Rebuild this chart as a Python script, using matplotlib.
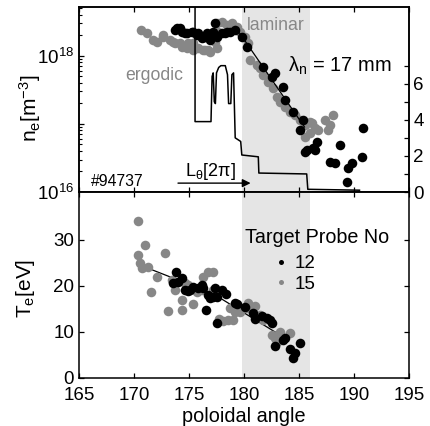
import matplotlib
matplotlib.use("Agg")
import matplotlib.pyplot as plt
from matplotlib.ticker import FixedLocator, FixedFormatter
import numpy as np

plt.rcParams['font.family'] = ['Liberation Sans', 'DejaVu Sans']
plt.rcParams['mathtext.fontset'] = 'custom'
plt.rcParams['mathtext.rm'] = 'Liberation Sans'
plt.rcParams['mathtext.it'] = 'Liberation Sans:italic'
plt.rcParams['mathtext.bf'] = 'Liberation Sans:bold'

# ---------------- data ----------------
# density, probe 12 (black), units of 1e18 m^-3
theta_ne12 = [173.7, 173.9, 174.2, 174.4, 174.6, 174.8, 175.3, 175.4, 175.7, 175.8,
              176.2, 176.3, 176.45, 176.6, 176.9, 176.9, 177.2, 177.4, 177.55, 178.0,
              178.3, 178.45, 178.7, 179.2, 179.8, 180.3, 181.7, 182.8, 182.5, 183.55,
              183.7, 184.45, 185.1, 185.4, 185.7, 185.5, 186.45, 186.6, 186.3, 188.7,
              187.8, 188.3, 189.45, 189.8, 189.4, 190.7, 190.8]
ne12 = [2.41, 2.58, 2.58, 2.25, 2.18, 2.18, 2.25, 2.25, 2.04, 2.18,
        1.84, 1.9, 1.9, 2.18, 2.04, 1.72, 2.25, 3.06, 1.9, 2.18,
        2.18, 2.25, 2.25, 2.41, 1.9, 1.36, 0.69, 0.56, 0.49, 0.35,
        0.225, 0.15, 0.082, 0.115, 0.041, 0.039, 0.041, 0.054, 0.044, 0.049,
        0.028, 0.027, 0.0225, 0.027, 0.014, 0.033, 0.087]

# density, probe 15 (gray)
theta_ne15 = [170.6, 171.2, 171.7, 172.1, 172.6, 172.6, 173.3, 173.5, 173.7, 174.2,
              174.4, 174.8, 174.9, 175.4, 175.4, 175.8, 176.3, 176.45, 176.7, 176.9,
              177.4, 177.55, 177.6, 177.55, 178.0, 178.45, 178.9, 179.4, 179.6, 180.1,
              180.4, 180.5, 181.2, 181.45, 181.7, 182.2, 182.6, 183.0, 183.3, 183.7,
              184.2, 184.6, 185.1, 185.5, 186.0, 186.45, 186.0, 185.5, 186.7, 187.4,
              187.8, 188.1, 187.6, 186.2]
ne15 = [2.35, 2.18, 1.72, 1.61, 1.9, 2.04, 1.72, 1.61, 1.55, 1.55,
        1.36, 1.31, 1.55, 1.23, 1.55, 1.31, 1.23, 1.23, 1.23, 1.15,
        1.61, 1.31, 2.25, 3.06, 3.16, 2.86, 3.06, 2.67, 2.25, 1.9,
        1.55, 0.87, 0.74, 0.67, 0.53, 0.41, 0.34, 0.25, 0.21, 0.178,
        0.15, 0.136, 0.115, 0.097, 0.107, 0.087, 0.074, 0.064, 0.082, 0.115,
        0.097, 0.136, 0.082, 0.103]

# exponential fit for density (lambda_n = 17 mm)
theta_nfit = [179.2, 185.5]
ne_fit = [2.67, 0.090]

# connection length L_theta [2pi]
theta_L = [175.55, 175.55, 177.0, 177.1, 177.2, 177.3, 177.4, 177.5, 177.7, 177.9,
           178.3, 178.5, 178.6, 178.8, 178.9, 179.05, 179.2, 179.7, 179.8, 181.3,
           181.35, 185.7, 185.8, 190.5]
L_theta = [12.0, 3.9, 3.9, 6.4, 6.6, 5.0, 4.9, 6.6, 6.9, 7.0,
           7.0, 6.5, 4.9, 4.9, 6.5, 6.6, 3.0, 2.8, 2.05, 1.95,
           1.05, 1.0, 0.15, 0.1]

# temperature, probe 12 (black)
theta_T12 = [173.8, 173.5, 174.0, 174.4, 174.6, 174.9, 175.1, 175.4, 175.8, 176.2,
             176.25, 176.5, 176.7, 176.9, 177.2, 177.55, 177.5, 177.4, 178.0, 178.4,
             179.2, 179.4, 180.1, 180.8, 181.0, 181.6, 182.1, 182.4, 182.5, 183.55,
             183.7, 182.8, 184.2, 184.6, 184.45, 185.1]
T12 = [23.1, 20.7, 20.8, 21.7, 19.1, 18.9, 19.1, 19.8, 19.6, 20.2,
       19.6, 14.8, 18.0, 17.4, 17.6, 17.6, 12.0, 19.6, 19.1, 18.3,
       16.3, 16.1, 15.4, 14.1, 12.8, 13.5, 13.0, 12.6, 12.0, 8.3,
       8.7, 7.0, 6.3, 5.4, 4.3, 7.6]

# temperature, probe 15 (gray)
theta_T15 = [170.4, 170.4, 170.5, 170.7, 171.0, 171.3, 171.5, 172.1, 172.8, 173.1,
             173.45, 173.7, 174.4, 174.35, 174.6, 174.9, 175.4, 175.7, 176.2, 176.3,
             176.7, 177.2, 177.2, 177.7, 178.1, 178.5, 178.7, 179.2, 179.0, 179.6,
             180.3, 181.0, 181.45, 181.7, 182.5, 182.8, 183.3, 183.0, 184.2, 179.4,
             180.35]
T15 = [34.0, 26.7, 25.0, 23.9, 28.9, 24.1, 18.7, 22.0, 27.2, 14.6,
       21.3, 19.1, 17.0, 14.7, 20.7, 20.2, 16.1, 18.7, 19.1, 22.0,
       23.0, 23.0, 19.1, 12.8, 12.4, 12.5, 15.2, 14.3, 12.6, 14.3,
       15.2, 15.6, 13.7, 12.6, 9.3, 8.7, 10.0, 7.8, 9.8, 15.9,
       16.3]

# temperature fit
theta_Tfit = [171.0, 175.8, 177.4, 183.7]
T_fit = [24.1, 19.6, 18.0, 8.7]

laminar_span = (179.8, 186.0)
xticks = [165, 170, 175, 180, 185, 190, 195]

GRAY = '#878787'
SHADE = '#e5e5e5'
TFS = 13.5

# ---------------- figure ----------------
fig = plt.figure(figsize=(4.31, 4.26), dpi=100)
W, H = 431, 426
left, right = 79 / W, 409 / W
ax1 = fig.add_axes([left, 1 - 192 / H, right - left, (192 - 7) / H])
ax2 = fig.add_axes([left, 1 - 378 / H, right - left, (378 - 192) / H])

for ax in (ax1, ax2):
    ax.axvspan(*laminar_span, color=SHADE, lw=0, zorder=0)
    ax.set_xlim(165, 195)
    ax.set_xticks(xticks)
    for s in ax.spines.values():
        s.set_linewidth(1.1)

# top panel
ax1.set_yscale('log')
ms = 6.9
ax1.plot(theta_ne15, np.array(ne15) * 1e18, 'o', color=GRAY, ms=ms, mec='none', zorder=3)
ax1.plot(theta_ne12, np.array(ne12) * 1e18, 'o', color='black', ms=ms, mec='none', zorder=4)
ax1.plot(theta_nfit, np.array(ne_fit) * 1e18, '-', color='black', lw=0.9, zorder=5)
ax1.set_ylim(1e16, 5.2e18)
ax1.yaxis.set_major_locator(FixedLocator([1e16, 1e17, 1e18]))
ax1.yaxis.set_major_formatter(FixedFormatter([r'$10^{16}$', '', r'$10^{18}$']))
minor = [k * 10 ** e for e in (16, 17, 18) for k in range(2, 10)]
ax1.yaxis.set_minor_locator(FixedLocator(minor))
ax1.tick_params(axis='y', which='minor', direction='in', length=2.5, width=0.8)
ax1.tick_params(axis='both', which='major', direction='in', length=3.5, width=0.9,
                labelsize=TFS, top=True, bottom=True)
ax1.tick_params(axis='x', labelbottom=False)
ax1.set_ylabel(r'n$_\mathregular{e}$[m$^\mathregular{-3}$]', fontsize=15)
ax1.yaxis.set_label_coords(-0.11, 0.454)

ax1r = ax1.twinx()
ax1r.plot(theta_L, L_theta, '-', color='black', lw=1.1, zorder=6)
ax1r.set_ylim(0, 10.25)
ax1r.set_yticks([0, 1, 2, 3, 4, 5, 6, 7])
ax1r.set_yticklabels(['0', '', '2', '', '4', '', '6', ''])
ax1r.tick_params(axis='y', direction='in', length=3.5, width=0.9, labelsize=TFS, pad=3)
for s in ax1r.spines.values():
    s.set_linewidth(1.1)

ax1.text(169.2, 0.51e18, 'ergodic', color=GRAY, fontsize=12.7, va='center', ha='left')
ax1.text(180.3, 2.75e18, 'laminar', color=GRAY, fontsize=12.7, va='center', ha='left')
ax1.text(184.0, 0.72e18, r'λ$_\mathregular{n}$ = 17 mm', color='black', fontsize=14.5,
         va='center', ha='left')
ax1.text(166.1, 1.42e16, '#94737', color='black', fontsize=11.3, va='center', ha='left')
ax1.text(174.6, 2.0e16, r'L$_\mathregular{θ}$[2π]', color='black', fontsize=13,
         va='center', ha='left')
ax1.annotate('', xy=(180.6, 1.35e16), xytext=(174.0, 1.35e16),
             arrowprops=dict(arrowstyle='-|>', color='black', lw=1.0,
                             mutation_scale=12, shrinkA=0, shrinkB=0))

# bottom panel
ax2.plot(theta_Tfit, T_fit, '-', color='black', lw=0.9, zorder=2)
ax2.plot(theta_T15, T15, 'o', color=GRAY, ms=ms, mec='none', zorder=3)
ax2.plot(theta_T12, T12, 'o', color='black', ms=ms, mec='none', zorder=4)
ax2.set_ylim(0, 40.4)
ax2.set_yticks([0, 10, 20, 30])
ax2.tick_params(axis='both', which='major', direction='in', length=3.5, width=0.9,
                labelsize=TFS, top=True, right=True)
ax2.tick_params(axis='x', pad=6.5)
ax2.set_ylabel(r'T$_\mathregular{e}$[eV]', fontsize=15)
ax2.yaxis.set_label_coords(-0.127, 0.484)
ax2.set_xlabel('poloidal angle', fontsize=14.3, labelpad=2)

ax2.text(0.72, 0.755, 'Target Probe No', transform=ax2.transAxes, fontsize=14.2,
         ha='center', va='center')
h12, = ax2.plot([], [], 'o', color='black', ms=3.6, mec='none')
h15, = ax2.plot([], [], 'o', color=GRAY, ms=3.6, mec='none')
ax2.legend([h12, h15], ['12', '15'], loc='upper left', bbox_to_anchor=(0.594, 0.66),
           frameon=False, fontsize=13.5, handlelength=0.6, handletextpad=0.45,
           borderpad=0, borderaxespad=0, labelspacing=0.17)

fig.savefig('out.png', dpi=100)
